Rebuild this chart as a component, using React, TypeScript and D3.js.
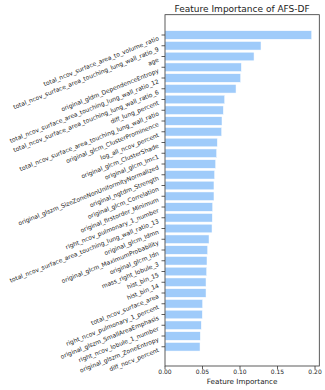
import React from 'react'
import * as d3 from 'd3'

// feature names, top to bottom
const features = [
  'total_ncov_surface_area_to_volume_ratio',
  'total_ncov_surface_area_touching_lung_wall_ratio_9',
  'age',
  'original_gldm_DependenceEntropy',
  'total_ncov_surface_area_touching_lung_wall_ratio_12',
  'total_ncov_surface_area_touching_lung_wall_ratio_6',
  'diff_lung_percent',
  'total_ncov_surface_area_touching_lung_wall_ratio',
  'original_glcm_ClusterProminence',
  'log_all_ncov_percent',
  'original_glcm_ClusterShade',
  'original_glcm_Imc1',
  'original_glszm_SizeZoneNonUniformityNormalized',
  'original_ngtdm_Strength',
  'original_glcm_Correlation',
  'original_firstorder_Minimum',
  'right_ncov_pulmonary_1_number',
  'total_ncov_surface_area_touching_lung_wall_ratio_13',
  'original_glcm_Idmn',
  'original_glcm_MaximumProbability',
  'original_glcm_Idn',
  'mass_right_lobule_3',
  'hist_bin_15',
  'hist_bin_14',
  'total_ncov_surface_area',
  'right_ncov_pulmonary_1_percent',
  'original_glszm_SmallAreaEmphasis',
  'right_ncov_lobule_1_number',
  'original_glszm_ZoneEntropy',
  'diff_nocv_percent',
]

const importance = [
  0.1956, 0.128, 0.1187, 0.1018, 0.1009, 0.0947, 0.0796, 0.0778, 0.076, 0.0756,
  0.0698, 0.0689, 0.0676, 0.0662, 0.0653, 0.0653, 0.0636, 0.0631, 0.0627, 0.0587,
  0.0569, 0.056, 0.0556, 0.0547, 0.0547, 0.0502, 0.0498, 0.0484, 0.0471, 0.0467,
]

const xTicks = [0, 0.05, 0.1, 0.15, 0.2]

const W = 325
const H = 390
const left = 165
const right = 319.3
const top = 14.7
const bottom = 366

const font = 'DejaVu Sans, sans-serif'

export default function App() {
  const x = d3.scaleLinear().domain([0, 0.2057]).range([left, right])
  const y = d3.scaleBand<string>()
    .domain(features)
    .range([29.625, 352.125])
    .paddingInner(0.2)
    .paddingOuter(0.1)
  const fmt = d3.format('.2f')
  const cx = (left + right) / 2

  return (
    <svg width={W} height={H} style={{ position: 'absolute', left: 0, top: 0, background: '#fff' }} fontFamily={font}>
      <text x={cx} y={11.5} fontSize={9} textAnchor="middle" fill="#222">Feature Importance of AFS-DF</text>

      {/* bars */}
      {features.map((f, i) => (
        <rect key={f} x={x(0)} y={y(f)} width={x(importance[i]) - x(0)} height={y.bandwidth()}
          fill="#9fcbfa" stroke="#fff" strokeWidth={0.5} />
      ))}

      {/* frame */}
      <rect x={left} y={top} width={right - left} height={bottom - top} fill="none" stroke="#333" strokeWidth={0.8} />

      {/* y ticks and rotated labels */}
      {features.map(f => {
        const cy = y(f)! + y.bandwidth() / 2
        return (
          <g key={f}>
            <line x1={left - 3.5} x2={left} y1={cy} y2={cy} stroke="#333" strokeWidth={0.8} />
            <text transform={`translate(${left - 6.5},${cy + 3}) rotate(-22)`} fontSize={6}
              textAnchor="end" dy="0.35em" fill="#222">{f}</text>
          </g>
        )
      })}

      {/* x ticks */}
      {xTicks.map(t => (
        <g key={t}>
          <line x1={x(t)} x2={x(t)} y1={bottom} y2={bottom + 3.5} stroke="#333" strokeWidth={0.8} />
          <text x={x(t)} y={373.5} fontSize={6} textAnchor="middle" fill="#222">{fmt(t)}</text>
        </g>
      ))}

      <text x={cx} y={383.5} fontSize={7.2} textAnchor="middle" fill="#222">Feature Importance</text>
    </svg>
  )
}
